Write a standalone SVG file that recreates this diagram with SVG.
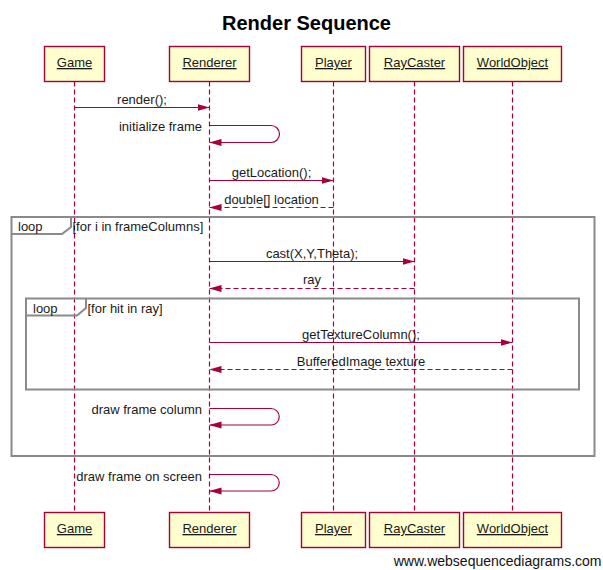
<svg xmlns="http://www.w3.org/2000/svg" width="603" height="570" viewBox="0 0 603 570">
<defs>
<style>
text{font-family:"Liberation Sans",Arial,sans-serif;font-size:13px;fill:#1a1a1a}
.title{font-size:20px;font-weight:bold;fill:#000}
.pbox{fill:#FEFECE;stroke:#A80036;stroke-width:1.4}
.pname{text-anchor:middle;text-decoration:underline}
.life{stroke:#A80036;stroke-width:1.2;stroke-dasharray:5,3;fill:none}
.msg{stroke:#A80036;stroke-width:1.2;fill:none;marker-end:url(#ah)}
.ret{stroke-dasharray:5,3}
.frame{fill:none;stroke:#8a8a8a;stroke-width:2}
.mid{text-anchor:middle}
.end{text-anchor:end}
.wm{font-size:14px;fill:#111}
</style>
<marker id="ah" markerUnits="userSpaceOnUse" markerWidth="12" markerHeight="8" viewBox="0 0 12 8" refX="12" refY="4" orient="auto">
<path d="M0,0.5 L12,4 L0,7.5 z" fill="#A80036"/>
</marker>
</defs>
<rect width="603" height="570" fill="#fff"/>
<text class="title" x="306.5" y="30" text-anchor="middle">Render Sequence</text>

<g id="lifelines">
<line class="life" x1="74.5" y1="81.5" x2="74.5" y2="512.5"/>
<line class="life" x1="209.5" y1="81.5" x2="209.5" y2="512.5"/>
<line class="life" x1="333.5" y1="81.5" x2="333.5" y2="512.5"/>
<line class="life" x1="414.5" y1="81.5" x2="414.5" y2="512.5"/>
<line class="life" x1="512.5" y1="81.5" x2="512.5" y2="512.5"/>
</g>

<g id="game">
<rect class="pbox" x="44.5" y="46.5" width="60" height="35"/>
<text class="pname" x="74.5" y="67">Game</text>
<rect class="pbox" x="44.5" y="512.5" width="60" height="35"/>
<text class="pname" x="74.5" y="533">Game</text>
</g>
<g id="renderer">
<rect class="pbox" x="169.5" y="46.5" width="80" height="35"/>
<text class="pname" x="209.5" y="67">Renderer</text>
<rect class="pbox" x="169.5" y="512.5" width="80" height="35"/>
<text class="pname" x="209.5" y="533">Renderer</text>
</g>
<g id="player">
<rect class="pbox" x="301.5" y="46.5" width="64" height="35"/>
<text class="pname" x="333.5" y="67">Player</text>
<rect class="pbox" x="301.5" y="512.5" width="64" height="35"/>
<text class="pname" x="333.5" y="533">Player</text>
</g>
<g id="raycaster">
<rect class="pbox" x="369.5" y="46.5" width="90" height="35"/>
<text class="pname" x="414.5" y="67">RayCaster</text>
<rect class="pbox" x="369.5" y="512.5" width="90" height="35"/>
<text class="pname" x="414.5" y="533">RayCaster</text>
</g>
<g id="worldobject">
<rect class="pbox" x="463.5" y="46.5" width="98" height="35"/>
<text class="pname" x="512.5" y="67">WorldObject</text>
<rect class="pbox" x="463.5" y="512.5" width="98" height="35"/>
<text class="pname" x="512.5" y="533">WorldObject</text>
</g>

<g id="loop-outer">
<rect class="frame" x="11.5" y="217" width="583" height="239"/>
<path class="frame" d="M11.5,234 H62 L71,227 V217"/>
<text x="18" y="231">loop</text>
<text x="72.5" y="231">[for i in frameColumns]</text>
</g>
<g id="loop-inner">
<rect class="frame" x="26" y="298.5" width="553" height="91"/>
<path class="frame" d="M26,315.5 H77 L86,308 V298.5"/>
<text x="33" y="312.5">loop</text>
<text x="87.5" y="312.5">[for hit in ray]</text>
</g>

<g id="connectors">
<line class="msg" x1="74.5" y1="107.5" x2="209.5" y2="107.5"/>
<text class="mid" x="142" y="103.5">render();</text>

<path class="msg" d="M209.5,125.5 H271 A8.5,8.5 0 0 1 271,142.5 H209.5"/>
<text class="end" x="202" y="131">initialize frame</text>

<line class="msg" x1="209.5" y1="180.5" x2="333.5" y2="180.5"/>
<text class="mid" x="271.5" y="176.5">getLocation();</text>

<line class="msg ret" x1="333.5" y1="207.5" x2="209.5" y2="207.5"/>
<text class="mid" x="271.5" y="203.5">double[] location</text>

<line class="msg" x1="209.5" y1="261.5" x2="414.5" y2="261.5"/>
<text class="mid" x="312" y="257.5">cast(X,Y,Theta);</text>

<line class="msg ret" x1="414.5" y1="288.5" x2="209.5" y2="288.5"/>
<text class="mid" x="312" y="284">ray</text>

<line class="msg" x1="209.5" y1="342.5" x2="512.5" y2="342.5"/>
<text class="mid" x="361" y="338.5">getTextureColumn();</text>

<line class="msg ret" x1="512.5" y1="369.5" x2="209.5" y2="369.5"/>
<text class="mid" x="361" y="365.5">BufferedImage texture</text>

<path class="msg" d="M209.5,408.5 H271 A8.25,8.25 0 0 1 271,425 H209.5"/>
<text class="end" x="202" y="413.5">draw frame column</text>

<path class="msg" d="M209.5,474.5 H271 A8.25,8.25 0 0 1 271,491 H209.5"/>
<text class="end" x="202" y="480.5">draw frame on screen</text>
</g>

<text class="wm" x="601.5" y="565.5" text-anchor="end">www.websequencediagrams.com</text>
</svg>
